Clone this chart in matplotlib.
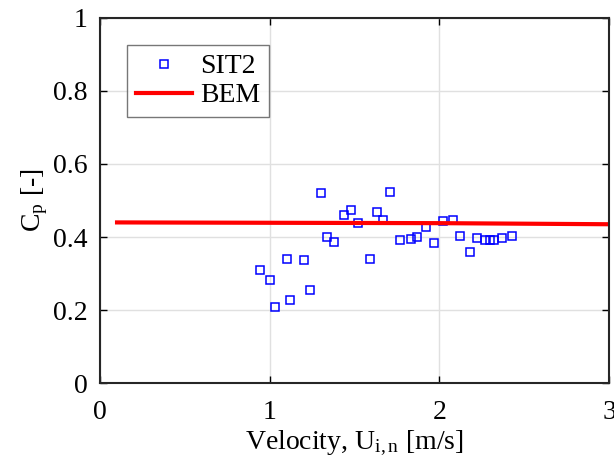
import matplotlib
matplotlib.use("Agg")
import matplotlib.pyplot as plt

# measured power coefficient, SIT2
u_sit2 = [0.94, 1.00, 1.03, 1.10, 1.12, 1.20, 1.24, 1.30, 1.34, 1.38,
          1.44, 1.48, 1.52, 1.59, 1.63, 1.67, 1.71, 1.77, 1.83, 1.87,
          1.92, 1.97, 2.02, 2.08, 2.12, 2.18, 2.22, 2.27, 2.30, 2.32,
          2.37, 2.43]
cp_sit2 = [0.311, 0.282, 0.208, 0.341, 0.229, 0.336, 0.256, 0.521, 0.401, 0.387,
           0.460, 0.474, 0.439, 0.340, 0.469, 0.446, 0.524, 0.391, 0.395, 0.401,
           0.427, 0.384, 0.443, 0.447, 0.402, 0.359, 0.397, 0.392, 0.392, 0.392,
           0.396, 0.402]

# BEM prediction
u_bem = [0.1, 1.0, 2.0, 3.0]
cp_bem = [0.440, 0.439, 0.438, 0.435]

plt.rcParams['font.family'] = ['Liberation Serif', 'DejaVu Serif']
plt.rcParams['mathtext.fontset'] = 'custom'
plt.rcParams['mathtext.rm'] = 'Liberation Serif'
plt.rcParams['mathtext.it'] = 'Liberation Serif'

fig = plt.figure(figsize=(6.14, 4.69), dpi=100)
ax = fig.add_axes([0.163, 0.183, 0.829, 0.779])

ax.plot(u_sit2, cp_sit2, 's', mfc='none', mec='blue', ms=6, mew=1.1, label='SIT2')
ax.plot(u_bem, cp_bem, '-', color='red', lw=3, label='BEM')

ax.set_xlim(0, 3)
ax.set_ylim(0, 1)
ax.set_xticks([0, 1, 2, 3])
ax.set_yticks([0, 0.2, 0.4, 0.6, 0.8, 1])
ax.set_yticklabels(['0', '0.2', '0.4', '0.6', '0.8', '1'])
ax.grid(True, color='#e0e0e0', lw=1)
ax.set_axisbelow(True)
ax.tick_params(direction='in', top=True, right=True, length=5, width=1,
               labelsize=20)
ax.tick_params(axis='x', pad=12)
ax.tick_params(axis='y', pad=9)
for s in ax.spines.values():
    s.set_linewidth(1.5)
    s.set_color('#262626')

ax.set_xlabel(r'Velocity, U$_{\mathrm{i,n}}$ [m/s]', fontsize=20, labelpad=3)
ax.set_ylabel(r'C$_{\mathrm{p}}$ [-]', fontsize=20, labelpad=2)

leg = ax.legend(loc='upper left', bbox_to_anchor=(0.053, 0.926), fontsize=20,
                frameon=True, fancybox=False, edgecolor='#555555',
                handlelength=2.0, borderpad=0.33, labelspacing=0.12,
                handletextpad=0.3, borderaxespad=0)
leg.get_frame().set_linewidth(1)

fig.savefig('out.png', dpi=100)
